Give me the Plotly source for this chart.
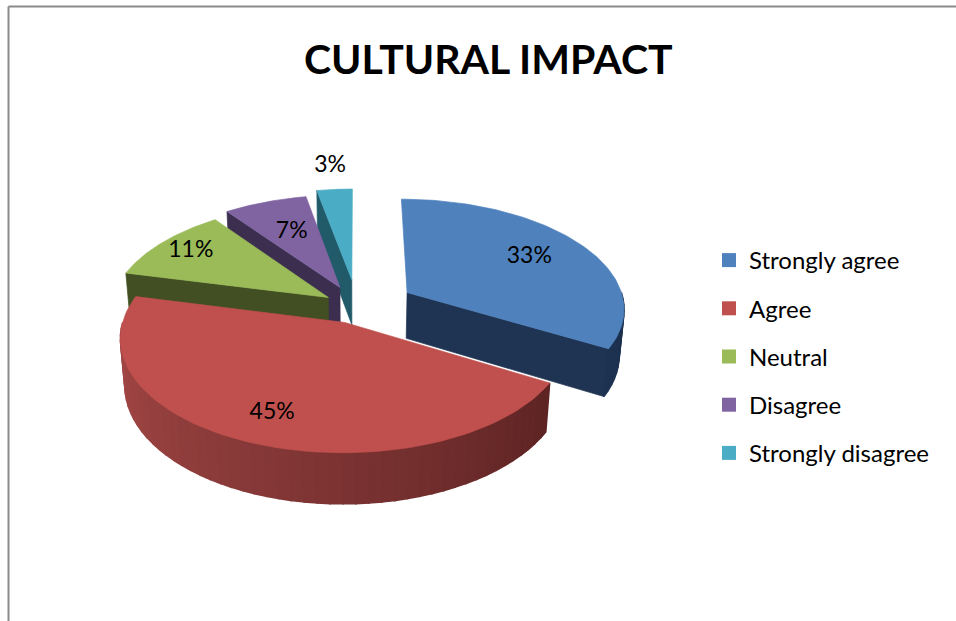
import numpy as np
import plotly.graph_objects as go

# ---- data -------------------------------------------------------------
categories = ["Strongly agree", "Agree", "Neutral", "Disagree", "Strongly disagree"]
percent = [33, 45, 11, 7, 3]

# ---- styling ----------------------------------------------------------
top_colors = ["#4F81BD", "#C0504D", "#9BBB59", "#8064A2", "#4BACC6"]
side_light = [(36, 60, 96), (168, 74, 72), (72, 90, 38), (66, 52, 88), (36, 96, 112)]
side_dark = [(28, 48, 78), (78, 28, 28), (60, 76, 32), (56, 44, 76), (30, 84, 98)]
cut_colors = ["#1F3452", "#7A2A28", "#414F22", "#3B2E4E", "#215A69"]
pull = [0.27, 0.15, 0.16, 0.20, 0.26]
label_r = [0.70, 0.78, 0.82, 0.62, 1.30]
FONT = "Lato"

# 3-D disc projected onto the page (pixel units)
CX, CY = 357.0, 307.0
R = 218.0
ALPHA = np.radians(30)
PERSP = 0.15
H = 0.25


def project(X, Y, Z):
    X, Y, Z = np.asarray(X, float), np.asarray(Y, float), np.asarray(Z, float)
    depth = Y * np.cos(ALPHA) - Z * np.sin(ALPHA)
    f = 1.0 / (1.0 + PERSP * depth)
    sx = CX + R * X * f
    sy = CY - R * (Y * np.sin(ALPHA) + Z * np.cos(ALPHA)) * f
    return sx, sy


def rgb(c):
    return "rgb(%d,%d,%d)" % tuple(int(round(v)) for v in c)


total = float(sum(percent))
slices = []
start = 90.0
for i, v in enumerate(percent):
    span = v / total * 360.0
    a1 = start
    a0 = start - span
    start = a0
    mid = np.radians((a0 + a1) / 2)
    ox, oy = pull[i] * np.cos(mid), pull[i] * np.sin(mid)
    slices.append(dict(i=i, a0=a0, a1=a1, mid=mid, ox=ox, oy=oy))

fig = go.Figure()


def poly(xs, ys, color, lw=0.7):
    fig.add_trace(go.Scatter(
        x=list(xs) + [xs[0]], y=list(ys) + [ys[0]], mode="lines",
        fill="toself", fillcolor=color, line=dict(color=color, width=lw),
        hoverinfo="skip", showlegend=False))


def draw_slice(s):
    i, a0, a1, ox, oy = s["i"], s["a0"], s["a1"], s["ox"], s["oy"]
    # radial cut faces that face the viewer
    for a, vis in ((a0, np.cos(np.radians(a0)) > 0.01), (a1, np.cos(np.radians(a1)) < -0.01)):
        if vis:
            ar = np.radians(a)
            X = [ox, ox + np.cos(ar), ox + np.cos(ar), ox]
            Y = [oy, oy + np.sin(ar), oy + np.sin(ar), oy]
            Z = [0, 0, -H, -H]
            sx, sy = project(X, Y, Z)
            poly(sx, sy, cut_colors[i])
    # outer rim, front half only, lighter on the left and darker on the right
    for base in (0.0, -360.0):
        lo, hi = max(a0, base - 180.0), min(a1, base)
        if hi - lo <= 0:
            continue
        n = max(2, int((hi - lo) / 3.0))
        th = np.linspace(lo, hi, n + 1)
        for k in range(n):
            t1, t2 = np.radians(th[k]), np.radians(th[k + 1])
            X = [ox + np.cos(t1), ox + np.cos(t2), ox + np.cos(t2), ox + np.cos(t1)]
            Y = [oy + np.sin(t1), oy + np.sin(t2), oy + np.sin(t2), oy + np.sin(t1)]
            Z = [0, 0, -H, -H]
            sx, sy = project(X, Y, Z)
            tm = ((th[k] + th[k + 1]) / 2 - (base - 180.0)) / 180.0
            c = [side_light[i][j] + (side_dark[i][j] - side_light[i][j]) * tm for j in range(3)]
            poly(sx, sy, rgb(c), lw=1.6)
    # top face
    th = np.radians(np.linspace(a1, a0, 90))
    X = np.concatenate([[ox], ox + np.cos(th)])
    Y = np.concatenate([[oy], oy + np.sin(th)])
    sx, sy = project(X, Y, np.zeros_like(X))
    poly(sx, sy, top_colors[i])


# paint back-to-front
order = sorted(slices, key=lambda s: -(s["oy"] + 0.5 * np.sin(s["mid"])))
for s in order:
    draw_slice(s)

# percentage labels
lx, ly, lt = [], [], []
for s in slices:
    i = s["i"]
    X = s["ox"] + label_r[i] * np.cos(s["mid"])
    Y = s["oy"] + label_r[i] * np.sin(s["mid"])
    sx, sy = project([X], [Y], [0])
    lx.append(float(sx[0]))
    ly.append(float(sy[0]))
    lt.append(f"{percent[i]}%")
fig.add_trace(go.Scatter(x=lx, y=ly, mode="text", text=lt,
                         textfont=dict(family=FONT, size=23, color="black"),
                         hoverinfo="skip", showlegend=False))

# legend entries
for cat, col in zip(categories, top_colors):
    fig.add_trace(go.Scatter(x=[None], y=[None], mode="markers", name=cat,
                             legendgroup=cat,
                             marker=dict(symbol="square", size=14, color=col)))

fig.update_layout(
    width=956, height=621,
    margin=dict(l=0, r=0, t=0, b=0),
    paper_bgcolor="white", plot_bgcolor="white",
    xaxis=dict(range=[0, 956], visible=False, fixedrange=True),
    yaxis=dict(range=[621, 0], visible=False, fixedrange=True),
    showlegend=True,
    legend=dict(x=709 / 956, y=1 - 238 / 621, xanchor="left", yanchor="top",
                font=dict(family=FONT, size=24, color="black"),
                tracegroupgap=14, bgcolor="rgba(0,0,0,0)", itemclick=False),
    annotations=[dict(text="<b>CULTURAL IMPACT</b>", x=488, y=58, xref="x", yref="y",
                      showarrow=False, font=dict(family=FONT, size=41, color="black"))],
    shapes=[
        dict(type="line", xref="paper", yref="paper", x0=8.5 / 956, x1=8.5 / 956,
             y0=1 - 6.5 / 621, y1=0, line=dict(color="#8A8A8A", width=2)),
        dict(type="line", xref="paper", yref="paper", x0=8.5 / 956, x1=1,
             y0=1 - 6.5 / 621, y1=1 - 6.5 / 621, line=dict(color="#8A8A8A", width=2)),
    ],
)

fig.write_html("out.html")
